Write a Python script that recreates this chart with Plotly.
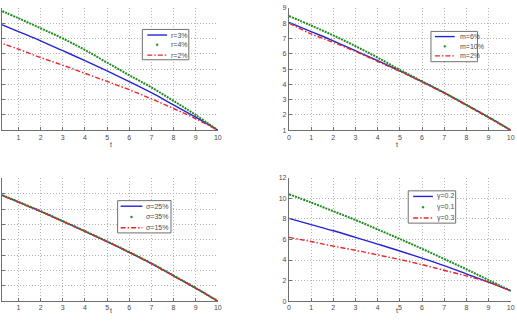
import plotly.graph_objects as go

W, H = 517, 322

t = [0, 1, 2, 3, 4, 5, 6, 7, 8, 9, 10]

# top-left: r
r_3 = [8.05, 7.45, 6.85, 6.2, 5.55, 4.88, 4.18, 3.45, 2.65, 1.85, 1.0]
r_4 = [8.95, 8.32, 7.67, 7.0, 6.25, 5.42, 4.6, 3.8, 2.92, 2.0, 1.0]
r_2 = [6.8, 6.3, 5.75, 5.25, 4.72, 4.19, 3.65, 3.05, 2.42, 1.75, 1.0]
r_names = ["r=3%", "r=4%", "r=2%"]

# top-right: m
m_6 = [8.05, 7.45, 6.85, 6.2, 5.55, 4.88, 4.18, 3.45, 2.65, 1.85, 1.0]
m_10 = [8.47, 7.85, 7.2, 6.5, 5.75, 4.95, 4.2, 3.45, 2.66, 1.85, 1.0]
m_2 = [8.0, 7.3, 6.75, 6.15, 5.5, 4.85, 4.15, 3.42, 2.63, 1.82, 1.0]
m_names = ["m=6%", "m=10%", "m=2%"]

# bottom-left: sigma
s_25 = [8.05, 7.45, 6.85, 6.2, 5.55, 4.88, 4.18, 3.45, 2.65, 1.85, 1.0]
s_35 = [8.07, 7.47, 6.87, 6.22, 5.57, 4.9, 4.2, 3.47, 2.67, 1.86, 1.0]
s_15 = [8.04, 7.44, 6.84, 6.19, 5.54, 4.87, 4.17, 3.44, 2.64, 1.84, 1.0]
s_names = ["σ=25%", "σ=35%", "σ=15%"]

# bottom-right: gamma
g_02 = [8.05, 7.45, 6.85, 6.2, 5.55, 4.88, 4.18, 3.45, 2.65, 1.85, 1.0]
g_01 = [10.4, 9.6, 8.75, 7.9, 6.98, 6.05, 5.1, 4.1, 3.1, 2.05, 1.0]
g_03 = [6.2, 5.8, 5.35, 4.95, 4.5, 4.05, 3.55, 3.0, 2.45, 1.85, 1.0]
g_names = ["γ=0.2", "γ=0.1", "γ=0.3"]

BLUE = "#2424d4"
GREEN = "#1e8c1e"
RED = "#e8262a"
FONT = "Liberation Sans, Arial, sans-serif"
TXT = "#4a4a4a"
REDDASH = "5px,2px,1.5px,2px"

def px(x):
    return x / W

def py(y):
    return 1 - y / H

panels = [
    dict(series=[r_3, r_4, r_2], names=r_names, xd=(0, 218.3), yd=(4, 129),
         xr=[0.253, 10], yr=[1, 9], dt=1, showy=False,
         leg=dict(box=(142, 26, 189, 57), rows=(31.7, 41.7, 52.3), s=(147, 167), tx=169)),
    dict(series=[m_6, m_10, m_2], names=m_names, xd=(290.3, 514.7), yd=(4, 129),
         xr=[0, 10], yr=[1, 9], dt=1, showy=True,
         leg=dict(box=(434, 28, 481, 59), rows=(33.3, 43.3, 53), s=(438, 458), tx=461)),
    dict(series=[s_25, s_35, s_15], names=s_names, xd=(0, 218.3), yd=(178.3, 303.7),
         xr=[0.253, 10], yr=[1, 9], dt=1, showy=False,
         leg=dict(box=(117, 201, 171, 234), rows=(206.7, 217.7, 228.7), s=(120, 142), tx=144)),
    dict(series=[g_02, g_01, g_03], names=g_names, xd=(290.3, 514.7), yd=(177.7, 303.7),
         xr=[0, 10], yr=[0, 12], dt=2, showy=True,
         leg=dict(box=(411, 191, 459, 224), rows=(196.7, 207.7, 218.7), s=(416, 436), tx=438)),
]

fig = go.Figure()
shapes = []
annotations = []
layout_axes = {}

for i, p in enumerate(panels):
    n = i + 1
    xa = "x" if n == 1 else f"x{n}"
    ya = "y" if n == 1 else f"y{n}"
    blue, green, red = p["series"]
    fig.add_trace(go.Scatter(x=t, y=blue, mode="lines", xaxis=xa, yaxis=ya,
                             line=dict(color=BLUE, width=1.4, shape="spline"),
                             name=p["names"][0], showlegend=False))
    fig.add_trace(go.Scatter(x=t, y=green, mode="lines", xaxis=xa, yaxis=ya,
                             line=dict(color=GREEN, width=2.0, dash="2px,1px", shape="spline"),
                             name=p["names"][1], showlegend=False))
    fig.add_trace(go.Scatter(x=t, y=red, mode="lines", xaxis=xa, yaxis=ya,
                             line=dict(color=RED, width=1.4, dash=REDDASH, shape="spline"),
                             name=p["names"][2], showlegend=False))

    common = dict(showgrid=True, gridcolor="#b4b4b4", griddash="1px,2px", gridwidth=1,
                  zeroline=False, showline=True, linecolor="#707070", linewidth=1,
                  ticks="inside", ticklen=3, tickcolor="#707070",
                  tickfont=dict(size=7, color=TXT, family=FONT))
    layout_axes["xaxis" if n == 1 else f"xaxis{n}"] = dict(
        domain=[px(p["xd"][0]), px(p["xd"][1])], range=p["xr"], dtick=1, tick0=0,
        anchor=ya, **common)
    layout_axes["yaxis" if n == 1 else f"yaxis{n}"] = dict(
        domain=[py(p["yd"][1]), py(p["yd"][0])], range=p["yr"], dtick=p["dt"], tick0=0,
        anchor=xa, showticklabels=p["showy"], **common)

    # x-axis title "t"
    xc = (p["xd"][0] + p["xd"][1]) / 2
    if p["xd"][0] == 0:
        xc = 107
    annotations.append(dict(x=px(xc), y=py(p["yd"][1] + 15), xref="paper", yref="paper",
                            text="t", showarrow=False, font=dict(size=7, color=TXT, family=FONT)))

    # legend box
    L = p["leg"]
    x0, y0, x1, y1 = L["box"]
    shapes.append(dict(type="rect", xref="paper", yref="paper", x0=px(x0), x1=px(x1),
                       y0=py(y1), y1=py(y0), line=dict(color="#707070", width=1),
                       fillcolor="white", layer="above"))
    s0, s1 = L["s"]
    ry = L["rows"]
    shapes.append(dict(type="line", xref="paper", yref="paper", x0=px(s0), x1=px(s1),
                       y0=py(ry[0]), y1=py(ry[0]), line=dict(color=BLUE, width=1.4), layer="above"))
    cx = (s0 + s1) / 2
    shapes.append(dict(type="circle", xref="paper", yref="paper", x0=px(cx - 1), x1=px(cx + 1),
                       y0=py(ry[1] + 1), y1=py(ry[1] - 1), line=dict(color=GREEN, width=0.5),
                       fillcolor=GREEN, layer="above"))
    shapes.append(dict(type="line", xref="paper", yref="paper", x0=px(s0), x1=px(s1),
                       y0=py(ry[2]), y1=py(ry[2]),
                       line=dict(color=RED, width=1.4, dash=REDDASH), layer="above"))
    for k in range(3):
        annotations.append(dict(x=px(L["tx"]), y=py(ry[k]), xref="paper", yref="paper",
                                xanchor="left", yanchor="middle", text=p["names"][k],
                                showarrow=False, font=dict(size=7, color=TXT, family=FONT)))

fig.update_layout(
    width=W, height=H, margin=dict(l=0, r=0, t=0, b=0),
    paper_bgcolor="white", plot_bgcolor="white",
    shapes=shapes, annotations=annotations, showlegend=False,
    **layout_axes,
)

fig.write_html("out.html")
